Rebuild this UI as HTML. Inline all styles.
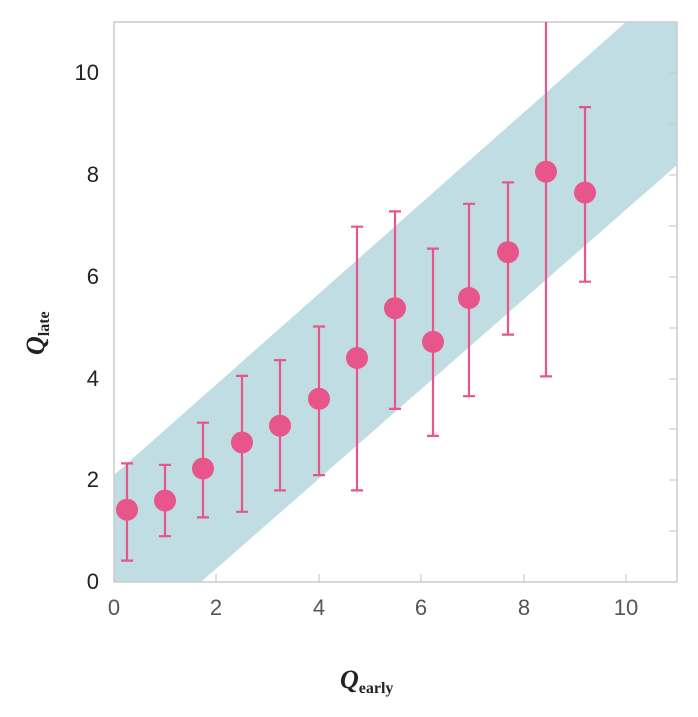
<!DOCTYPE html>
<html><head><meta charset="utf-8"><style>body{margin:0;background:#fff}</style></head><body>
<svg width="698" height="712" xmlns="http://www.w3.org/2000/svg" font-family="Liberation Sans, sans-serif">
<polygon points="114,475 626,22 677,22 677,165 201,582 114,582" fill="#bfdde2"/>
<rect x="114" y="22" width="563" height="560" fill="none" stroke="#cccccc" stroke-width="1.5"/>
<g stroke="#cccccc" stroke-width="1.2">
<line x1="216" y1="582" x2="216" y2="574"/><line x1="319" y1="582" x2="319" y2="574"/><line x1="421" y1="582" x2="421" y2="574"/><line x1="524" y1="582" x2="524" y2="574"/><line x1="626" y1="582" x2="626" y2="574"/>
<line x1="669" y1="531" x2="677" y2="531"/><line x1="669" y1="480" x2="677" y2="480"/><line x1="669" y1="429" x2="677" y2="429"/><line x1="669" y1="379" x2="677" y2="379"/><line x1="669" y1="328" x2="677" y2="328"/><line x1="669" y1="277" x2="677" y2="277"/><line x1="669" y1="226" x2="677" y2="226"/><line x1="669" y1="175" x2="677" y2="175"/><line x1="669" y1="124" x2="677" y2="124"/><line x1="669" y1="73" x2="677" y2="73"/>
</g>
<g fill="#555" font-size="22" text-anchor="middle">
<text x="114" y="615">0</text><text x="216" y="615">2</text><text x="319" y="615">4</text><text x="421" y="615">6</text><text x="524" y="615">8</text><text x="626" y="615">10</text>
</g>
<g fill="#222" font-size="22" text-anchor="end">
<text x="99" y="589">0</text><text x="99" y="487">2</text><text x="99" y="386">4</text><text x="99" y="284">6</text><text x="99" y="182">8</text><text x="99" y="80">10</text>
</g>
<text x="340" y="688" font-family="Liberation Serif, serif" font-weight="bold" font-style="italic" font-size="26" fill="#222">Q<tspan font-size="16" font-style="normal" dy="5">early</tspan></text>
<text transform="translate(44,355) rotate(-90)" font-family="Liberation Serif, serif" font-weight="bold" font-style="italic" font-size="26" fill="#222">Q<tspan font-size="16" font-style="normal" dy="5">late</tspan></text>
<g stroke="#e8558b" stroke-width="2.2" fill="#e8558b">
<path d="M127,560.6V463.4M121,560.6h12M121,463.4h12"/><circle cx="127" cy="509.7" r="11" stroke="none"/>
<path d="M165,536.2V464.9M159,536.2h12M159,464.9h12"/><circle cx="165" cy="500.6" r="11" stroke="none"/>
<path d="M203,517.4V422.7M197,517.4h12M197,422.7h12"/><circle cx="203" cy="468.5" r="11" stroke="none"/>
<path d="M242,511.8V375.9M236,511.8h12M236,375.9h12"/><circle cx="242" cy="442.5" r="11" stroke="none"/>
<path d="M280,490.4V360.1M274,490.4h12M274,360.1h12"/><circle cx="280" cy="425.7" r="11" stroke="none"/>
<path d="M319,475.1V326.5M313,475.1h12M313,326.5h12"/><circle cx="319" cy="398.8" r="11" stroke="none"/>
<path d="M357,490.4V226.7M351,490.4h12M351,226.7h12"/><circle cx="357" cy="358" r="11" stroke="none"/>
<path d="M395,408.9V211.4M389,408.9h12M389,211.4h12"/><circle cx="395" cy="308.2" r="11" stroke="none"/>
<path d="M433,435.9V248.6M427,435.9h12M427,248.6h12"/><circle cx="433" cy="341.8" r="11" stroke="none"/>
<path d="M469,396.2V203.8M463,396.2h12M463,203.8h12"/><circle cx="469" cy="298" r="11" stroke="none"/>
<path d="M508,334.6V182.4M502,334.6h12M502,182.4h12"/><circle cx="508" cy="252.2" r="11" stroke="none"/>
<path d="M546,376.4V22M540,376.4h12"/><circle cx="546" cy="171.7" r="11" stroke="none"/>
<path d="M585,281.7V107.1M579,281.7h12M579,107.1h12"/><circle cx="585" cy="192.6" r="11" stroke="none"/>
</g>
</svg>
</body></html>
